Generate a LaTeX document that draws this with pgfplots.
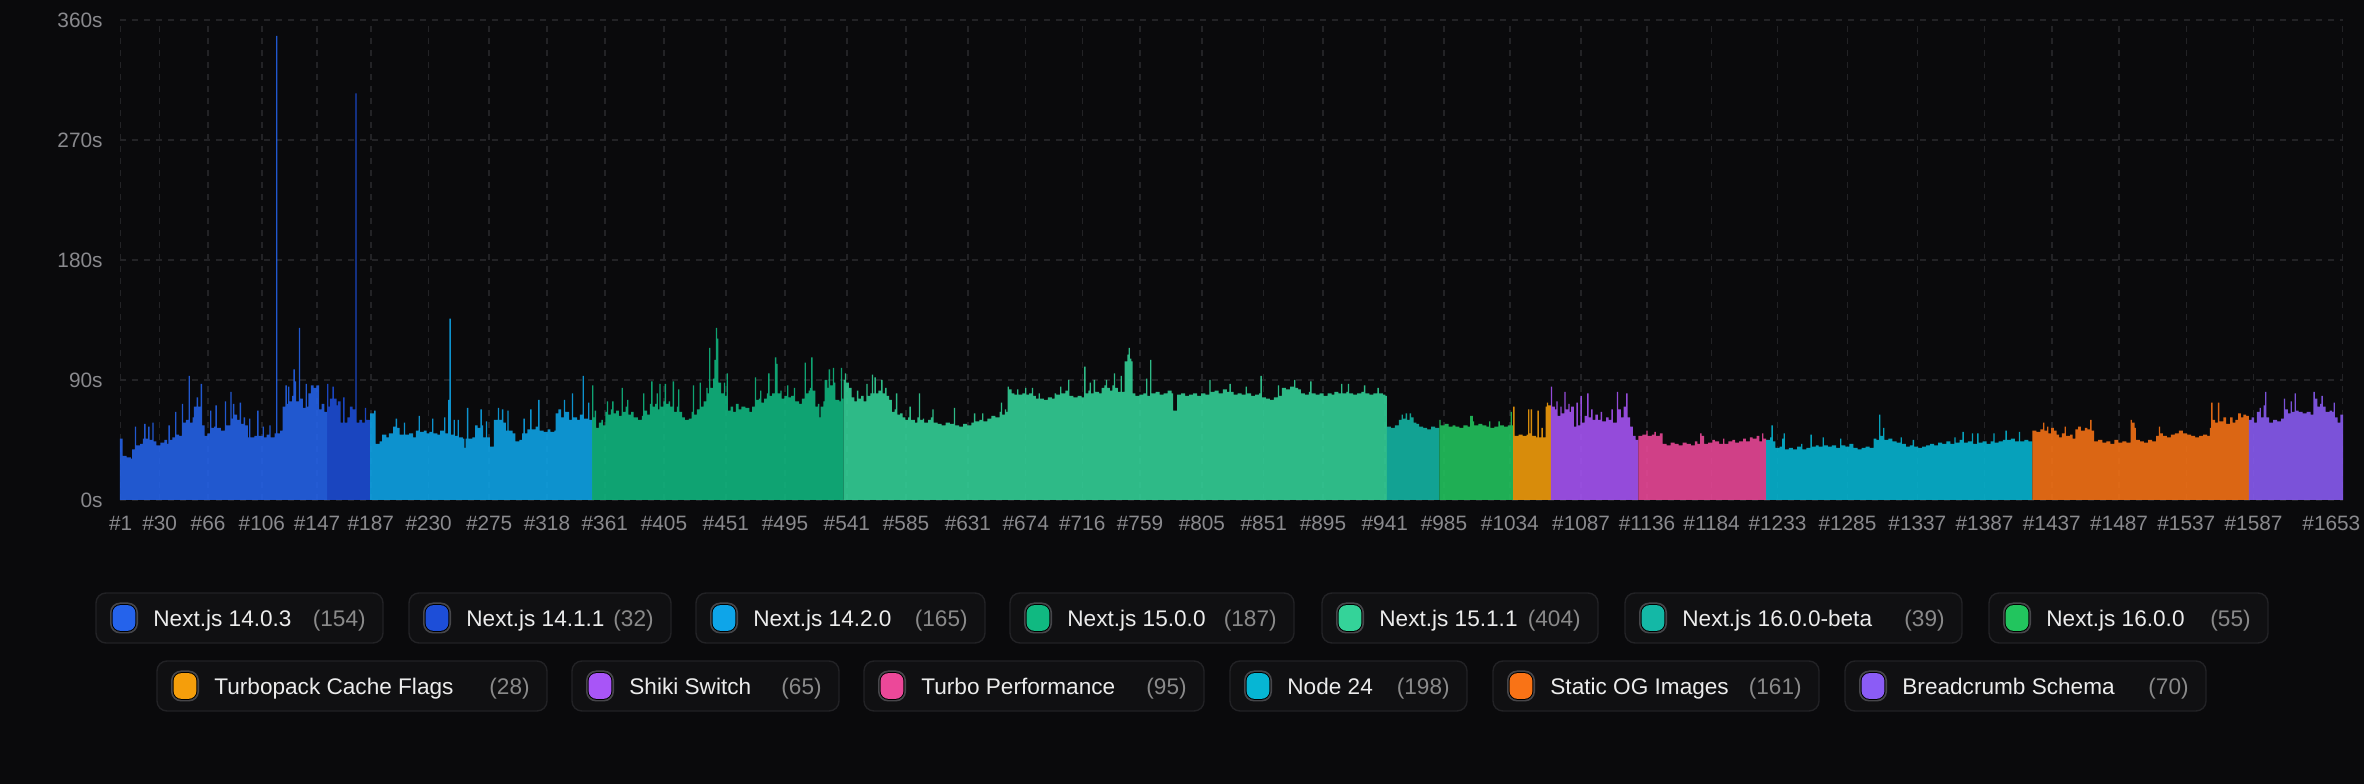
\documentclass[border=0pt]{standalone}
\usepackage{fontspec}
\setmainfont{Liberation Sans}
\usepackage{pgfplots}
\pgfplotsset{compat=1.18}

\definecolor{bg}{HTML}{0A0A0C}
\definecolor{gridc}{HTML}{232326}
\definecolor{tickc}{HTML}{8A8A8E}
\definecolor{legfill}{HTML}{101012}
\definecolor{legborder}{HTML}{222225}
\definecolor{legtext}{HTML}{ECECEC}
\definecolor{legcount}{HTML}{8A8A8A}
\definecolor{swring}{HTML}{46464A}
\definecolor{cA}{HTML}{2563EB}
\definecolor{cB}{HTML}{1D4ED8}
\definecolor{cC}{HTML}{0EA5E9}
\definecolor{cD}{HTML}{10B981}
\definecolor{cE}{HTML}{34D399}
\definecolor{cF}{HTML}{14B8A6}
\definecolor{cG}{HTML}{22C55E}
\definecolor{cH}{HTML}{F59E0B}
\definecolor{cI}{HTML}{A855F7}
\definecolor{cJ}{HTML}{EC4899}
\definecolor{cK}{HTML}{06B6D4}
\definecolor{cL}{HTML}{F97316}
\definecolor{cM}{HTML}{8B5CF6}

% legend chip: left, right, y centre (bp), colour, name, count
\newcommand{\chip}[6]{%
  \draw[draw=legborder, fill=legfill, line width=0.7bp, rounded corners=5bp]
    (#1bp,#3bp-12.5bp) rectangle (#2bp,#3bp+12.5bp);
  \fill[swring, rounded corners=5bp] (#1bp+7bp,#3bp-7.75bp) rectangle (#1bp+21bp,#3bp+7.75bp);
  \fill[black, rounded corners=4.5bp] (#1bp+7.8bp,#3bp-6.95bp) rectangle (#1bp+20.2bp,#3bp+6.95bp);
  \fill[#4, rounded corners=4bp] (#1bp+8.3bp,#3bp-6.45bp) rectangle (#1bp+19.7bp,#3bp+6.45bp);
  \node[anchor=base west, inner sep=0pt, text=legtext, font=\legfont] at (#1bp+28.5bp,#3bp-4.1bp) {#5};
  \node[anchor=base east, inner sep=0pt, text=legcount, font=\legfont] at (#2bp-8.5bp,#3bp-4.1bp) {(#6)};
}
\newcommand{\legfont}{\fontsize{11.3bp}{14bp}\selectfont}

\begin{document}
\begin{tikzpicture}
\path[use as bounding box, fill=bg] (0,0) rectangle (1182bp,392bp);
\begin{axis}[
  at={(60bp,142bp)}, anchor=south west,
  scale only axis, width=1111.5bp, height=240bp,
  xmin=1, xmax=1654, ymin=0, ymax=360,
  axis x line*=bottom, axis y line*=left,
  axis line style={draw=none},
  major tick length=0pt,
  xtick={1.5,30.5,66.5,106.5,147.5,187.5,230.5,275.5,318.5,361.5,405.5,451.5,495.5,541.5,585.5,631.5,674.5,716.5,759.5,805.5,851.5,895.5,941.5,985.5,1034.5,1087.5,1136.5,1184.5,1233.5,1285.5,1337.5,1387.5,1437.5,1487.5,1537.5,1587.5,1653.5},
  xticklabels={\#1,\#30,\#66,\#106,\#147,\#187,\#230,\#275,\#318,\#361,\#405,\#451,\#495,\#541,\#585,\#631,\#674,\#716,\#759,\#805,\#851,\#895,\#941,\#985,\#1034,\#1087,\#1136,\#1184,\#1233,\#1285,\#1337,\#1387,\#1437,\#1487,\#1537,\#1587,{\hbox to 0pt{\hss\#1653\kern-9bp}}},
  ytick={0,90,180,270,360},
  yticklabels={0s,90s,180s,270s,360s},
  grid=major,
  major grid style={draw=gridc, dash pattern=on 3bp off 3bp, line width=0.7bp},
  tick label style={font=\fontsize{10.4bp}{12bp}\selectfont, text=tickc, inner sep=0pt},
  xticklabel style={anchor=north, yshift=-8bp},
  yticklabel style={anchor=east, xshift=-8.5bp},
  every axis plot/.append style={ybar interval, draw=none, fill opacity=0.88},
]
% Next.js 14.0.3
\addplot[ybar interval, draw=none, fill=cA] coordinates {(1,46) (3,33) (6,32) (9,31) (10,38) (12,55) (13,41) (16,42) (18,46) (19,57) (20,46) (22,55) (23,45) (25,58) (26,44) (28,41) (31,43) (34,45) (36,42) (37,56) (38,45) (40,47) (42,66) (43,49) (45,48) (47,72) (48,58) (50,60) (52,93) (53,58) (55,62) (56,70) (58,77) (59,70) (61,87) (62,56) (64,48) (66,50) (68,67) (69,54) (71,55) (72,71) (73,54) (76,52) (79,74) (80,56) (83,81) (84,61) (85,72) (86,64) (88,60) (90,73) (91,57) (93,62) (94,56) (96,47) (97,61) (98,47) (101,48) (103,67) (104,48) (107,55) (108,47) (110,49) (112,56) (113,47) (116,50) (117,348) (118,50) (120,52) (122,70) (124,86) (125,72) (126,85) (127,74) (129,78) (130,98) (131,89) (132,74) (134,129) (135,76) (137,69) (139,87) (140,70) (141,80) (143,86) (145,84) (147,86) (149,68) (151,72) (153,66) (155,0)};
% Next.js 14.1.1
\addplot[ybar interval, draw=none, fill=cB] coordinates {(155,87) (156,70) (157,76) (159,85) (160,76) (162,71) (163,74) (165,58) (167,77) (168,58) (170,62) (172,70) (174,68) (176,305) (177,58) (179,60) (181,58) (183,69) (184,60) (187,0)};
% Next.js 14.2.0
\addplot[ybar interval, draw=none, fill=cC] coordinates {(187,65) (190,67) (191,42) (194,44) (196,49) (199,47) (201,50) (204,55) (206,61) (207,54) (209,49) (212,58) (213,49) (216,50) (219,47) (221,52) (223,63) (224,51) (227,52) (229,50) (231,51) (233,61) (234,50) (237,49) (239,52) (242,62) (243,50) (245,75) (246,136) (247,49) (249,60) (250,48) (252,60) (253,47) (256,46) (257,39) (258,46) (259,69) (260,46) (263,47) (265,56) (267,54) (269,68) (270,56) (271,47) (273,59) (274,47) (276,40) (279,60) (282,69) (283,60) (285,68) (286,58) (288,52) (289,67) (290,52) (293,50) (295,44) (298,45) (300,50) (301,61) (302,50) (304,53) (306,68) (307,53) (310,55) (312,75) (313,52) (316,51) (319,53) (321,51) (324,52) (325,65) (327,68) (329,62) (331,75) (332,66) (335,60) (337,80) (338,62) (341,60) (343,64) (345,93) (346,61) (349,73) (350,60) (352,0)};
% Next.js 15.0.0
\addplot[ybar interval, draw=none, fill=cD] coordinates {(352,86) (353,62) (354,67) (355,54) (357,58) (359,60) (360,56) (362,66) (363,74) (364,64) (366,68) (367,74) (368,65) (370,67) (372,63) (374,84) (375,66) (377,70) (378,75) (379,64) (381,66) (383,62) (386,60) (389,63) (390,80) (391,67) (393,64) (395,72) (396,89) (397,70) (399,72) (400,80) (401,68) (402,87) (403,70) (405,74) (406,87) (407,72) (409,74) (410,70) (412,89) (413,66) (415,70) (416,83) (417,66) (419,62) (421,60) (424,61) (426,66) (427,86) (428,64) (430,68) (432,88) (433,70) (435,74) (437,84) (438,80) (439,114) (440,84) (442,91) (443,105) (444,129) (445,121) (446,88) (448,80) (450,88) (451,78) (452,95) (453,67) (455,70) (457,66) (459,72) (461,68) (463,70) (466,69) (469,66) (471,70) (473,92) (474,75) (476,76) (477,82) (478,73) (480,76) (482,80) (483,95) (484,78) (486,80) (488,107) (489,102) (490,80) (492,82) (493,76) (495,78) (497,86) (498,77) (500,78) (502,84) (503,74) (506,72) (508,76) (510,103) (511,80) (513,82) (514,84) (515,107) (516,82) (518,70) (520,72) (521,62) (522,70) (524,74) (525,90) (527,84) (528,98) (529,86) (531,99) (532,88) (533,75) (536,74) (537,99) (538,76) (539,0)};
% Next.js 15.1.1
\addplot[ybar interval, draw=none, fill=cE] coordinates {(539,90) (540,95) (541,88) (543,84) (545,77) (547,74) (549,82) (550,76) (552,78) (554,74) (556,87) (557,78) (559,80) (560,94) (561,80) (562,92) (563,80) (565,82) (567,90) (568,80) (570,84) (571,78) (573,75) (575,66) (577,68) (578,80) (579,64) (581,65) (583,62) (585,60) (587,62) (588,70) (589,60) (592,58) (594,62) (595,80) (596,60) (598,61) (599,58) (602,60) (604,62) (605,68) (606,58) (609,57) (612,56) (615,58) (618,57) (621,69) (622,56) (625,55) (628,57) (631,56) (634,58) (636,65) (637,59) (640,60) (642,65) (643,59) (646,61) (649,63) (652,62) (655,66) (656,73) (657,64) (659,68) (660,66) (661,85) (662,83) (664,80) (666,79) (668,83) (669,79) (672,80) (674,84) (675,79) (677,80) (679,84) (680,78) (682,76) (684,80) (685,76) (688,75) (691,77) (694,76) (696,80) (697,79) (700,85) (701,80) (704,82) (706,90) (707,78) (710,77) (713,78) (716,77) (718,100) (719,80) (721,82) (722,88) (723,80) (725,90) (726,81) (729,80) (731,84) (733,86) (734,90) (735,84) (737,82) (739,86) (740,95) (741,84) (743,81) (745,93) (746,81) (748,104) (750,109) (751,114) (752,106) (753,104) (754,80) (756,78) (759,79) (762,80) (764,91) (765,78) (767,105) (768,80) (771,81) (774,79) (777,80) (780,82) (783,80) (784,67) (787,79) (790,80) (793,78) (796,79) (799,80) (802,78) (805,80) (808,79) (811,90) (812,81) (815,82) (818,80) (821,83) (824,81) (826,87) (827,81) (829,79) (832,80) (835,79) (838,85) (839,80) (842,78) (845,79) (848,80) (849,93) (850,77) (853,76) (856,75) (859,77) (862,86) (863,78) (865,84) (868,83) (871,85) (874,90) (875,84) (877,83) (879,80) (882,79) (885,81) (886,89) (887,80) (890,79) (893,80) (896,78) (899,80) (902,79) (904,81) (907,80) (909,87) (910,80) (913,81) (914,87) (915,80) (918,79) (921,80) (924,81) (926,86) (927,80) (930,79) (933,80) (936,84) (937,80) (940,79) (942,78) (943,0)};
% Next.js 16.0.0-beta
\addplot[ybar interval, draw=none, fill=cF] coordinates {(943,55) (946,54) (949,56) (952,60) (954,64) (955,61) (957,65) (958,60) (960,65) (961,62) (963,58) (965,57) (967,55) (970,54) (973,53) (976,55) (979,54) (982,0)};
% Next.js 16.0.0
\addplot[ybar interval, draw=none, fill=cG] coordinates {(982,60) (983,56) (986,57) (989,55) (992,56) (994,55) (997,54) (1000,56) (1003,55) (1005,63) (1007,59) (1008,56) (1011,57) (1014,56) (1017,55) (1019,59) (1020,54) (1023,55) (1026,59) (1027,56) (1030,55) (1033,56) (1035,66) (1036,56) (1037,0)};
% Turbopack Cache Flags
\addplot[ybar interval, draw=none, fill=cH] coordinates {(1037,70) (1038,48) (1041,49) (1044,48) (1047,49) (1048,68) (1049,50) (1050,68) (1051,48) (1054,47) (1055,67) (1056,47) (1058,54) (1059,47) (1061,70) (1062,73) (1063,71) (1065,0)};
% Shiki Switch
\addplot[ybar interval, draw=none, fill=cI] coordinates {(1065,85) (1066,70) (1068,68) (1069,74) (1070,63) (1072,70) (1073,65) (1075,81) (1076,68) (1078,72) (1079,66) (1080,70) (1082,55) (1084,73) (1085,56) (1087,78) (1088,58) (1090,63) (1092,80) (1093,62) (1095,68) (1096,60) (1098,64) (1100,60) (1102,66) (1103,59) (1106,62) (1108,60) (1110,68) (1111,58) (1114,81) (1115,68) (1117,62) (1119,70) (1121,80) (1122,62) (1124,55) (1126,48) (1128,45) (1130,0)};
% Turbo Performance
\addplot[ybar interval, draw=none, fill=cJ] coordinates {(1130,48) (1133,49) (1136,52) (1137,48) (1140,49) (1142,51) (1143,48) (1146,50) (1148,42) (1151,41) (1154,43) (1157,42) (1160,41) (1163,43) (1166,42) (1169,41) (1172,44) (1174,42) (1176,50) (1177,48) (1179,42) (1182,43) (1185,45) (1187,44) (1190,42) (1193,46) (1194,42) (1197,44) (1200,45) (1202,43) (1205,44) (1208,46) (1210,44) (1213,47) (1215,46) (1218,48) (1220,44) (1222,50) (1223,46) (1225,0)};
% Node 24
\addplot[ybar interval, draw=none, fill=cK] coordinates {(1225,45) (1228,47) (1229,56) (1230,44) (1232,39) (1235,40) (1237,46) (1238,50) (1239,38) (1242,39) (1245,38) (1248,40) (1251,42) (1252,38) (1255,39) (1258,49) (1259,40) (1262,41) (1264,40) (1267,47) (1268,41) (1271,40) (1274,41) (1277,39) (1280,46) (1281,41) (1284,40) (1287,42) (1290,39) (1293,38) (1296,39) (1299,40) (1302,39) (1305,46) (1307,45) (1309,64) (1310,48) (1312,54) (1313,45) (1316,46) (1319,44) (1322,43) (1325,47) (1326,42) (1329,40) (1332,41) (1334,45) (1335,40) (1338,39) (1341,40) (1344,41) (1347,42) (1350,41) (1353,43) (1356,42) (1359,44) (1362,42) (1365,47) (1366,43) (1369,45) (1371,51) (1372,43) (1375,44) (1378,50) (1379,42) (1382,50) (1383,43) (1386,44) (1389,42) (1392,44) (1394,50) (1395,43) (1398,44) (1401,45) (1403,52) (1404,45) (1407,46) (1410,44) (1413,51) (1414,44) (1417,45) (1420,44) (1423,0)};
% Static OG Images
\addplot[ybar interval, draw=none, fill=cL] coordinates {(1423,52) (1426,51) (1429,53) (1431,58) (1432,52) (1434,55) (1435,50) (1437,54) (1439,52) (1441,49) (1443,47) (1445,50) (1447,55) (1448,48) (1451,49) (1453,46) (1455,53) (1457,55) (1459,52) (1462,54) (1464,53) (1466,60) (1467,52) (1469,44) (1472,45) (1475,43) (1478,44) (1481,42) (1484,45) (1487,43) (1490,44) (1493,43) (1496,60) (1497,58) (1499,54) (1500,45) (1503,44) (1506,43) (1509,45) (1512,44) (1515,48) (1517,55) (1518,50) (1520,48) (1523,47) (1526,49) (1529,50) (1532,52) (1535,50) (1538,49) (1541,48) (1544,47) (1547,48) (1550,49) (1553,48) (1555,54) (1556,73) (1557,60) (1559,58) (1561,73) (1562,59) (1565,62) (1567,57) (1570,62) (1572,58) (1574,60) (1576,65) (1578,62) (1580,64) (1582,63) (1584,0)};
% Breadcrumb Schema
\addplot[ybar interval, draw=none, fill=cM] coordinates {(1584,60) (1586,62) (1588,58) (1590,66) (1592,69) (1593,62) (1595,71) (1596,81) (1597,62) (1599,58) (1602,60) (1605,59) (1608,61) (1610,76) (1611,68) (1613,65) (1615,74) (1616,66) (1618,80) (1619,67) (1621,66) (1624,65) (1627,66) (1630,64) (1632,81) (1633,76) (1635,70) (1637,72) (1638,78) (1639,70) (1641,66) (1644,67) (1646,66) (1647,73) (1648,62) (1650,58) (1652,64) (1654,0)};
\end{axis}

% legend, row 1
\chip{48}{191.5}{83}{cA}{Next.js 14.0.3}{154}
\chip{204.5}{335.5}{83}{cB}{Next.js 14.1.1}{32}
\chip{348}{492.5}{83}{cC}{Next.js 14.2.0}{165}
\chip{505}{647}{83}{cD}{Next.js 15.0.0}{187}
\chip{661}{799}{83}{cE}{Next.js 15.1.1}{404}
\chip{812.5}{981}{83}{cF}{Next.js 16.0.0-beta}{39}
\chip{994.5}{1134}{83}{cG}{Next.js 16.0.0}{55}
% legend, row 2
\chip{78.5}{273.5}{49}{cH}{Turbopack Cache Flags}{28}
\chip{286}{419.5}{49}{cI}{Shiki Switch}{65}
\chip{432}{602}{49}{cJ}{Turbo Performance}{95}
\chip{615}{733.5}{49}{cK}{Node 24}{198}
\chip{746.5}{909.5}{49}{cL}{Static OG Images}{161}
\chip{922.5}{1103}{49}{cM}{Breadcrumb Schema}{70}
\end{tikzpicture}
\end{document}
